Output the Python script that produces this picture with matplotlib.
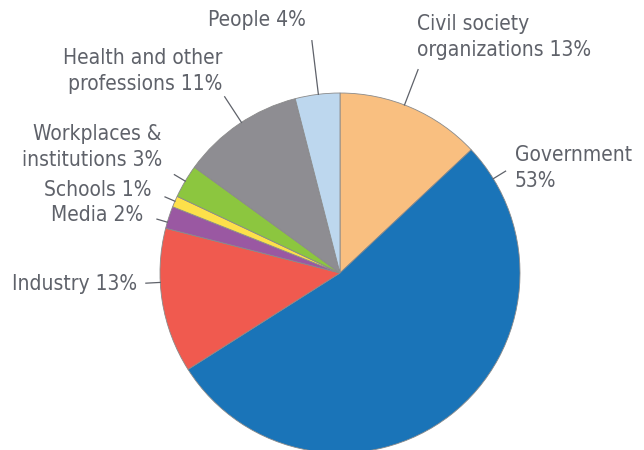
import numpy as np
import matplotlib.pyplot as plt

# ----------------------------- DATA
labels = ['Civil society\norganizations 13%', 'Government\n53%', 'Industry 13%',
          'Media 2%', 'Schools 1%', 'Workplaces &\ninstitutions 3%',
          'Health and other\nprofessions 11%', 'People 4%']
shares = [13, 53, 13, 2, 1, 3, 11, 4]
colors = ['#f9bf80', '#1a74b8', '#f05a4f', '#9a58a2', '#fde04a', '#8cc63f',
          '#8e8d92', '#bdd7ee']

# ----------------------------- LABEL LAYOUT (pixels, leader angle deg, leader outer radius)
text_px = [(417, 37), (515, 168), (137, 284), (143, 215), (152, 190),
           (162, 147), (222, 71), (306, 20)]
text_ha = ['left', 'left', 'right', 'right', 'right', 'right', 'right', 'right']
lead_ang = [69, 31.6, 183, 163.6, 156.5, 149.3, 123.2, 96.9]
lead_r = [1.21, 1.08, 1.08, 1.06, 1.06, 1.07, 1.17, 1.30]

W, H = 644, 450
cx, cy, R = 340, 273, 180  # pie centre / radius in pixels

fig = plt.figure(figsize=(W / 100, H / 100), dpi=100)
ax = fig.add_axes([0, 0, 1, 1])
ax.pie(shares, colors=colors, startangle=90, counterclock=False,
       wedgeprops=dict(edgecolor='#8a8a8a', linewidth=0.6))
ax.set_xlim(-cx / R, (W - cx) / R)
ax.set_ylim(-(H - cy) / R, cy / R)
ax.axis('off')

txt_col = '#5f626a'
for lab, (px, py), ha, a, r in zip(labels, text_px, text_ha, lead_ang, lead_r):
    t = np.deg2rad(a)
    ax.plot([np.cos(t), r * np.cos(t)], [np.sin(t), r * np.sin(t)],
            color=txt_col, lw=0.9)
    ax.text((px - cx) / R, (cy - py) / R, lab, ha=ha, va='center',
            fontsize=15, color=txt_col, linespacing=1.33,
            family='DejaVu Sans', fontstretch='condensed')

fig.savefig('out.png', dpi=100)
